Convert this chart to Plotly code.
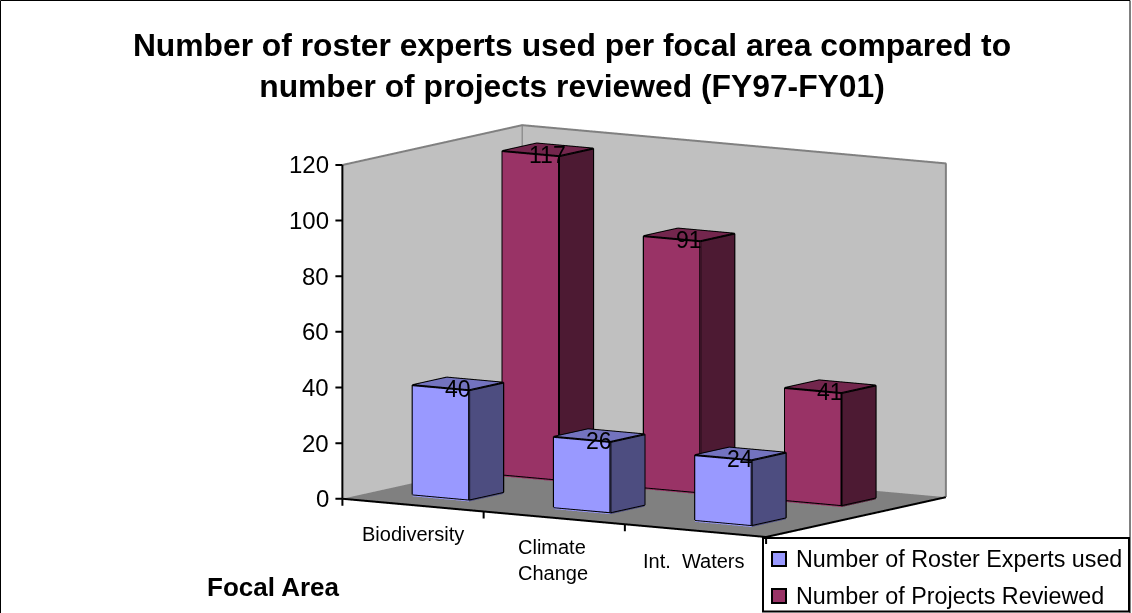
import plotly.graph_objects as go

categories = ["Biodiversity", "Climate<br>Change", "Int.\u00a0 Waters"]
series_names = ["Number of Roster Experts used", "Number of Projects Reviewed"]
roster_experts = [40, 26, 24]
projects_reviewed = [117, 91, 41]
title_text = "Number of roster experts used per focal area compared to<br>number of projects reviewed (FY97-FY01)"
axis_title = "Focal Area"
z_ticks = [0, 20, 40, 60, 80, 100, 120]

FONT = "Liberation Sans"
front = ["#9999FF", "#993366"]
side = ["#4D4D80", "#4D1A33"]
top = ["#7373BF", "#73264D"]

W, H = 1132, 613
fig = go.Figure()
BW = 0.40
DEPTH = [(0.155, 0.345), (0.655, 0.845)]
LIFT = 0.7  # keeps the base outline of a bar just above the floor plane
ann3d = []


def bar(cat, s, val):
    x0, x1 = cat + 0.5 - BW / 2, cat + 0.5 + BW / 2
    y0, y1 = DEPTH[s]
    xs = [x0, x1, x1, x0, x0, x1, x1, x0]
    ys = [y0, y0, y1, y1, y0, y0, y1, y1]
    zs = [0, 0, 0, 0, val, val, val, val]
    tri = [(0, 1, 5, front[s]), (0, 5, 4, front[s]),
           (1, 2, 6, side[s]), (1, 6, 5, side[s]),
           (4, 5, 6, top[s]), (4, 6, 7, top[s])]
    fig.add_trace(go.Mesh3d(
        x=xs, y=ys, z=zs,
        i=[t[0] for t in tri], j=[t[1] for t in tri], k=[t[2] for t in tri],
        facecolor=[t[3] for t in tri], flatshading=True,
        lighting=dict(ambient=1, diffuse=0, specular=0, fresnel=0, roughness=1),
        hoverinfo="skip", showscale=False))
    ex = [x0, x1, x1, x0, x0, None, x1, x1, x1, x1, None, x0, x0, x1, x1]
    ey = [y0, y0, y0, y0, y0, None, y0, y1, y1, y0, None, y0, y1, y1, y1]
    ez = [LIFT, LIFT, val, val, LIFT, None, LIFT, LIFT, val, val, None, val, val, val, val]
    fig.add_trace(go.Scatter3d(x=ex, y=ey, z=ez, mode="lines",
                               line=dict(color="black", width=4),
                               hoverinfo="skip", showlegend=False))
    ann3d.append(dict(x=cat + 0.5, y=(y0 + y1) / 2, z=val, text=str(val), showarrow=False,
                      xanchor="center", yanchor="middle",
                      font=dict(family=FONT, size=23, color="black"), yshift=-5))


for c, v in enumerate(roster_experts):
    bar(c, 0, v)
for c, v in enumerate(projects_reviewed):
    bar(c, 1, v)

zmax = z_ticks[-1]
# wall edges (grey) and floor front edges (black)
fig.add_trace(go.Scatter3d(x=[0, 0, 3, 3, None, 0, 0], y=[0, 1, 1, 1, None, 1, 1],
                           z=[zmax, zmax, zmax, 0, None, 0, zmax], mode="lines",
                           line=dict(color="#808080", width=4), hoverinfo="skip", showlegend=False))
fig.add_trace(go.Scatter3d(x=[0, 3, 3], y=[0, 0, 1], z=[0, 0, 0], mode="lines",
                           line=dict(color="black", width=4), hoverinfo="skip", showlegend=False))
fig.add_trace(go.Scatter3d(x=[0, 0], y=[0, 0], z=[0, zmax], mode="lines",
                           line=dict(color="black", width=4), hoverinfo="skip", showlegend=False))

for v in z_ticks:
    ann3d.append(dict(x=0, y=0, z=v, text=str(v), showarrow=True, arrowhead=0, arrowwidth=2, arrowcolor="black",
                      ax=-11, ay=0, startstandoff=4, xanchor="right", yanchor="middle",
                      font=dict(family=FONT, size=24, color="black")))
for c in range(len(categories) + 1):
    ann3d.append(dict(x=c, y=0, z=0, text=" ", showarrow=True, arrowhead=0, arrowwidth=2, arrowcolor="black",
                      ax=0, ay=7, xanchor="center", yanchor="top",
                      font=dict(family=FONT, size=2, color="black")))
label_shift = [(0, -29), (-1, -42), (-1, -30)]
for c, name in enumerate(categories):
    ann3d.append(dict(x=c + 0.5, y=0, z=0, text=name, showarrow=False, align="left",
                      xanchor="center", yanchor="middle",
                      xshift=label_shift[c][0], yshift=label_shift[c][1],
                      font=dict(family=FONT, size=20, color="black")))

eye = (0.738, -1.156, 0.196)
center = (-0.215, -0.137, 0.081)

annotations = [dict(text="<b>" + axis_title + "</b>", x=273 / W, y=1 - 587 / H, xref="paper", yref="paper",
                    xanchor="center", yanchor="middle",
                    showarrow=False, font=dict(family=FONT, size=26, color="black"))]
shapes = [dict(type="rect", xref="paper", yref="paper", x0=0.5 / W, x1=1130 / W, y0=-0.01, y1=1 - 0.5 / H,
               line=dict(color="black", width=1)),
          dict(type="rect", xref="paper", yref="paper", x0=763 / W, x1=1129 / W,
               y0=1 - 611.5 / H, y1=1 - 538 / H, fillcolor="white", line=dict(color="black", width=2))]
legend_y = [559, 596]
for s, name in enumerate(series_names):
    yc = legend_y[s]
    shapes.append(dict(type="rect", xref="paper", yref="paper", x0=772 / W, x1=786 / W,
                       y0=1 - (yc + 7) / H, y1=1 - (yc - 7) / H, fillcolor=front[s],
                       line=dict(color="black", width=2)))
    annotations.append(dict(text=name, x=794 / W, y=1 - yc / H, xref="paper", yref="paper",
                            xanchor="left", yanchor="middle",
                            showarrow=False, font=dict(family=FONT, size=23.3, color="black")))

fig.update_layout(
    width=W, height=H, autosize=False,
    margin=dict(l=0, r=0, t=0, b=0),
    paper_bgcolor="white",
    showlegend=False,
    font=dict(family=FONT, color="black"),
    title=dict(text="<b>" + title_text + "</b>", x=572 / W, xanchor="center", y=1 - 56 / H, yanchor="top",
               font=dict(family=FONT, size=31.8, color="black")),
    scene=dict(
        domain=dict(x=[0, 1], y=[0, 1]),
        aspectmode="manual",
        aspectratio=dict(x=1.64, y=1.09, z=1.10),
        camera=dict(projection=dict(type="orthographic"),
                    eye=dict(x=eye[0] + center[0], y=eye[1] + center[1], z=eye[2] + center[2]),
                    center=dict(x=center[0], y=center[1], z=center[2])),
        xaxis=dict(range=[0, 3], tickmode="array", tickvals=[], showticklabels=False,
                   showgrid=False, zeroline=False, showspikes=False, title="",
                   showbackground=True, backgroundcolor="#C0C0C0"),
        yaxis=dict(range=[0, 1], tickmode="array", tickvals=[], showticklabels=False, showgrid=False,
                   zeroline=False, showspikes=False, title="", showbackground=True,
                   backgroundcolor="#C0C0C0"),
        zaxis=dict(range=[0, zmax], tickmode="array", tickvals=z_ticks, showticklabels=False, showgrid=False,
                   zeroline=False, showspikes=False, title="", showbackground=True, backgroundcolor="#808080"),
        annotations=ann3d,
    ),
    annotations=annotations,
    shapes=shapes,
)
fig.write_html("out.html", config=dict(displayModeBar=False), post_script="document.body.style.margin='0';")
